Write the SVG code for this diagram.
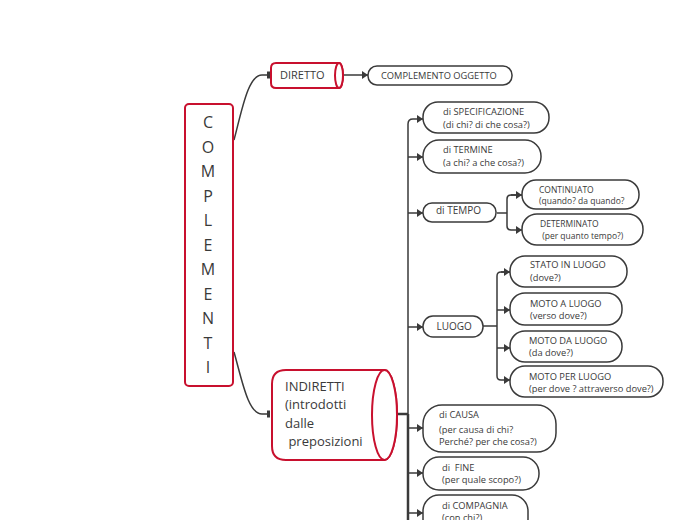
<svg xmlns="http://www.w3.org/2000/svg" width="696" height="520" viewBox="0 0 696 520">
<defs>
<style>
.red{fill:#fff;stroke:#c8102e;stroke-width:2}
.nd{fill:#fff;stroke:#3a3a3a;stroke-width:1.5}
.cn{fill:none;stroke:#3a3a3a;stroke-width:1.5}
text{font-family:"Open Sans","Liberation Sans",sans-serif;fill:#3a3a3a;white-space:pre}
.t9{font-size:9.3px}
.t85{font-size:8.5px}
.t10{font-size:10px}
</style>
<marker id="ar" viewBox="0 0 6 8" refX="6" refY="4" markerWidth="6" markerHeight="8" markerUnits="userSpaceOnUse" orient="auto">
<path d="M0,4 L6,0 L6,8 Z" fill="#3a3a3a" transform="rotate(180 3 4)"/>
</marker>
</defs>
<rect width="696" height="520" fill="#fff"/>

<g id="connectors">
<path class="cn" d="M234,140 C242,110 248,75 262,75 H268"/>
<rect x="267" y="71.5" width="3" height="7" fill="#3a3a3a"/>
<path class="cn" d="M234,352 C242,380 248,414 262,414 H268"/>
<rect x="267" y="410.5" width="3" height="7" fill="#3a3a3a"/>
<path class="cn" d="M343,75 H368" marker-end="url(#ar)"/>
<path d="M397,414 H408" stroke="#3a3a3a" stroke-width="2.5" fill="none"/>
<path class="cn" d="M408,414 V124 Q408,119 413,119 H423" marker-end="url(#ar)"/>
<path d="M408,414 V520" stroke="#3a3a3a" stroke-width="2.5" fill="none"/>
<path class="cn" d="M408,157 H423" marker-end="url(#ar)"/>
<path class="cn" d="M408,213 H423" marker-end="url(#ar)"/>
<path class="cn" d="M408,327 H423" marker-end="url(#ar)"/>
<path class="cn" d="M408,428 H423" marker-end="url(#ar)"/>
<path class="cn" d="M408,473 H423" marker-end="url(#ar)"/>
<path class="cn" d="M408,513 H423" marker-end="url(#ar)"/>
<path class="cn" d="M497,213 H507"/>
<path class="cn" d="M522,195 H511 Q507,195 507,199 V226 Q507,230 511,230 H522" marker-end="url(#ar)"/>
<path class="cn" d="M511,195 H522" marker-end="url(#ar)"/>
<path class="cn" d="M483,326 H497"/>
<path class="cn" d="M510,272 H501 Q497,272 497,276 V376 Q497,380 501,380 H510" marker-end="url(#ar)"/>
<path class="cn" d="M501,272 H510" marker-end="url(#ar)"/>
<path class="cn" d="M497,310 H510" marker-end="url(#ar)"/>
<path class="cn" d="M497,348 H510" marker-end="url(#ar)"/>
</g>

<g id="complementi">
<rect class="red" x="185" y="104" width="48" height="282" rx="4" stroke-width="2.5"/>
<g style="font-size:16px" text-anchor="middle">
<text x="208" y="128.3">C</text>
<text x="208" y="152.8">O</text>
<text x="208" y="177.3">M</text>
<text x="208" y="201.8">P</text>
<text x="208" y="226.3">L</text>
<text x="208" y="250.8">E</text>
<text x="208" y="275.3">M</text>
<text x="208" y="299.8">E</text>
<text x="208" y="324.3">N</text>
<text x="208" y="348.8">T</text>
<text x="208" y="373.3">I</text>
</g>
</g>

<g id="diretto">
<path class="red" d="M276,63 H339 A4,12.5 0 0 1 339,88 H276 Q271,88 271,83 V68 Q271,63 276,63 Z" stroke-width="1.5"/>
<ellipse class="red" cx="339" cy="75.5" rx="4" ry="12.5" stroke-width="1.5"/>
<text x="280" y="79" style="font-size:11px">DIRETTO</text>
</g>

<g id="oggetto">
<rect class="nd" x="368" y="66" width="144" height="19" rx="9"/>
<text x="381" y="79" class="t9">COMPLEMENTO OGGETTO</text>
</g>

<g id="indiretti">
<path class="red" d="M286,370 H384.5 A12.5,45 0 0 1 384.5,460 H286 Q272,460 272,446 V384 Q272,370 286,370 Z" stroke-width="1.5"/>
<ellipse class="red" cx="384.5" cy="415" rx="12.5" ry="45" stroke-width="1.5"/>
<g style="font-size:13px">
<text x="285" y="391">INDIRETTI</text>
<text x="285" y="409">(introdotti</text>
<text x="285" y="427.5">dalle</text>
<text x="285" y="446"> preposizioni</text>
</g>
</g>

<g id="specificazione">
<rect class="nd" x="423" y="102" width="126" height="31" rx="15"/>
<text x="443" y="115" class="t9">di SPECIFICAZIONE</text>
<text x="443" y="127.5" class="t9">(di chi? di che cosa?)</text>
</g>

<g id="termine">
<rect class="nd" x="423" y="140" width="118" height="33" rx="16"/>
<text x="443" y="153.3" class="t9">di TERMINE</text>
<text x="443" y="166" class="t9">(a chi? a che cosa?)</text>
</g>

<g id="tempo">
<rect class="nd" x="423" y="203" width="73" height="19" rx="9"/>
<text x="436" y="214" class="t10">di TEMPO</text>
</g>

<g id="continuato">
<rect class="nd" x="522" y="180" width="117" height="29" rx="14"/>
<text x="539" y="193" class="t85">CONTINUATO</text>
<text x="539" y="203.5" class="t85">(quando? da quando?</text>
</g>

<g id="determinato">
<rect class="nd" x="522" y="214" width="121" height="31" rx="15"/>
<text x="540" y="226.7" class="t85">DETERMINATO</text>
<text x="540" y="238.5" class="t85"> (per quanto tempo?)</text>
</g>

<g id="luogo">
<rect class="nd" x="423" y="316" width="60" height="21" rx="10"/>
<text x="436.5" y="330" class="t10">LUOGO</text>
</g>

<g id="stato">
<rect class="nd" x="510" y="256" width="117" height="31" rx="15"/>
<text x="530" y="268.3" class="t9">STATO IN LUOGO</text>
<text x="530" y="281" class="t9">(dove?)</text>
</g>

<g id="motoa">
<rect class="nd" x="510" y="293" width="112" height="32" rx="15"/>
<text x="530" y="306.7" class="t9">MOTO A LUOGO</text>
<text x="530" y="319" class="t9">(verso dove?)</text>
</g>

<g id="motoda">
<rect class="nd" x="510" y="331" width="112" height="31" rx="15"/>
<text x="529" y="343.8" class="t9">MOTO DA LUOGO</text>
<text x="529" y="356.2" class="t9">(da dove?)</text>
</g>

<g id="motoper">
<rect class="nd" x="510" y="366" width="153" height="31" rx="15"/>
<text x="529" y="380" class="t9">MOTO PER LUOGO</text>
<text x="529" y="391.5" class="t9">(per dove ? attraverso dove?)</text>
</g>

<g id="causa">
<rect class="nd" x="423" y="405" width="133" height="47" rx="19"/>
<text x="439" y="418.3" class="t9">di CAUSA</text>
<text x="439" y="432.5" class="t9">(per causa di chi?</text>
<text x="439" y="444.5" class="t9">Perché? per che cosa?)</text>
</g>

<g id="fine">
<rect class="nd" x="423" y="457" width="116" height="33" rx="16"/>
<text x="442" y="471" class="t9">di  FINE</text>
<text x="442" y="483" class="t9">(per quale scopo?)</text>
</g>

<g id="compagnia">
<rect class="nd" x="423" y="495" width="105" height="40" rx="16"/>
<text x="442" y="508.7" class="t9">di COMPAGNIA</text>
<text x="442" y="521" class="t9">(con chi?)</text>
</g>
</svg>
